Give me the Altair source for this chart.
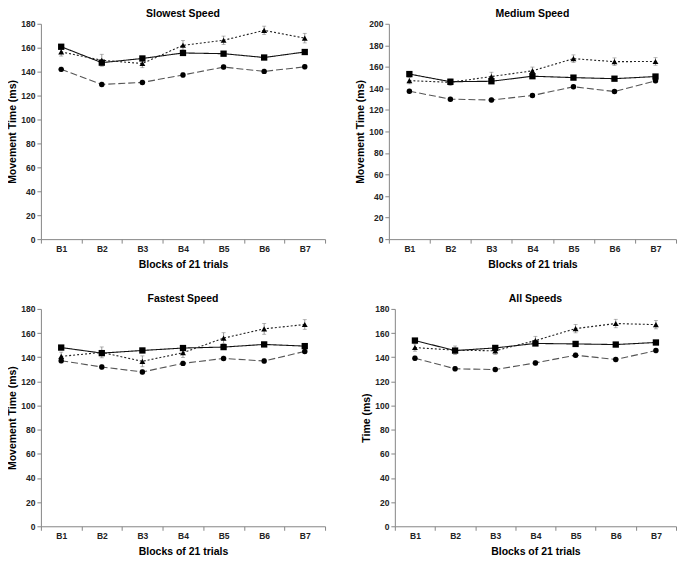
import altair as alt
import pandas as pd

blocks = ["B1", "B2", "B3", "B4", "B5", "B6", "B7"]
series_names = ["Square", "Triangle", "Circle"]

# Slowest Speed
slow_sq = [160.8, 147.5, 151.0, 155.6, 155.0, 151.8, 156.4]
slow_tri = [156.5, 149.5, 146.8, 162.0, 166.2, 174.5, 168.0]
slow_cir = [141.9, 129.3, 131.0, 137.2, 143.8, 140.2, 144.0]
slow_err_tri = [3.5, 5.0, 3.5, 4.0, 3.5, 3.5, 4.0]

# Medium Speed
med_sq = [153.3, 146.2, 146.6, 151.3, 150.0, 149.0, 151.0]
med_tri = [147.2, 145.6, 151.0, 156.3, 167.6, 164.8, 165.0]
med_cir = [137.4, 130.0, 129.2, 133.4, 141.5, 137.1, 147.0]
med_err_tri = [3.0, 3.0, 4.0, 3.5, 3.5, 3.5, 3.5]

# Fastest Speed
fast_sq = [148.0, 143.4, 145.6, 147.6, 148.4, 150.6, 149.2]
fast_tri = [140.7, 144.0, 136.6, 143.7, 155.8, 163.5, 167.1]
fast_cir = [137.1, 131.9, 127.8, 134.9, 139.0, 136.9, 144.8]
fast_err_tri = [3.5, 4.5, 4.5, 4.0, 4.5, 4.5, 4.0]

# All Speeds
all_sq = [153.8, 145.5, 147.7, 151.4, 151.0, 150.5, 152.2]
all_tri = [148.0, 145.8, 145.3, 153.8, 163.7, 167.9, 167.0]
all_cir = [139.2, 130.4, 129.8, 135.3, 141.7, 138.1, 145.5]
all_err_tri = [3.0, 3.5, 3.0, 3.5, 3.5, 3.5, 3.5]

other_err = 1.8

FONT = "Liberation Sans"


def make_panel(title, ytitle, ymax, sq, tri, cir, err_tri, width, height):
    rows = []
    for name, vals, errs in [
        ("Square", sq, [other_err] * 7),
        ("Triangle", tri, err_tri),
        ("Circle", cir, [other_err] * 7),
    ]:
        for b, v, e in zip(blocks, vals, errs):
            rows.append({"block": b, "series": name, "value": v, "lo": v - e, "hi": v + e})
    df = pd.DataFrame(rows)

    x = alt.X(
        "block:N",
        sort=blocks,
        scale=alt.Scale(type="band", domain=blocks, paddingInner=0, paddingOuter=0),
        axis=alt.Axis(
            title="Blocks of 21 trials",
            labelAngle=0,
            tickBand="extent",
            tickSize=4,
            labelPadding=1,
            titlePadding=7,
        ),
    )
    yscale = alt.Scale(domain=[0, ymax], nice=False, zero=True)
    yaxis = alt.Axis(
        title=ytitle,
        values=list(range(0, ymax + 1, 20)),
        tickSize=4,
        grid=False,
        labelOverlap=False,
        minExtent=20,
        maxExtent=20,
        titlePadding=3,
    )
    y = alt.Y("value:Q", scale=yscale, axis=yaxis)
    base = alt.Chart(df)

    err = base.mark_rule(color="#808080", strokeWidth=0.8).encode(
        x=x, y=alt.Y("lo:Q", scale=yscale, axis=yaxis), y2="hi:Q"
    )
    caps_lo = base.mark_tick(color="#808080", size=4, thickness=0.8).encode(
        x=x, y=alt.Y("lo:Q", scale=yscale, axis=yaxis)
    )
    caps_hi = base.mark_tick(color="#808080", size=4, thickness=0.8).encode(
        x=x, y=alt.Y("hi:Q", scale=yscale, axis=yaxis)
    )
    lines = base.mark_line(strokeWidth=1.1).encode(
        x=x,
        y=y,
        detail="series:N",
        color=alt.Color(
            "series:N",
            scale=alt.Scale(domain=series_names, range=["#111111", "#222222", "#555555"]),
            legend=None,
        ),
        strokeDash=alt.StrokeDash(
            "series:N",
            scale=alt.Scale(domain=series_names, range=[[1, 0], [2, 2], [7, 3]]),
            legend=None,
        ),
    )
    points = base.mark_point(filled=True, opacity=1, color="#000000").encode(
        x=x,
        y=y,
        shape=alt.Shape(
            "series:N",
            scale=alt.Scale(domain=series_names, range=["square", "triangle-up", "circle"]),
            legend=None,
        ),
        size=alt.Size(
            "series:N",
            scale=alt.Scale(domain=series_names, range=[40, 30, 32]),
            legend=None,
        ),
    )
    return alt.layer(lines, err, caps_lo, caps_hi, points).properties(
        width=width,
        height=height,
        title=alt.TitleParams(
            title, fontSize=10.5, fontWeight="bold", font=FONT, offset=0, frame="group", color="#000000"
        ),
    )


p1 = make_panel("Slowest Speed", "Movement Time (ms)", 180, slow_sq, slow_tri, slow_cir, slow_err_tri, 285, 216)
p2 = make_panel("Medium Speed", "Movement Time (ms)", 200, med_sq, med_tri, med_cir, med_err_tri, 288, 216)
p3 = make_panel("Fastest Speed", "Movement Time (ms)", 180, fast_sq, fast_tri, fast_cir, fast_err_tri, 285, 218)
p4 = make_panel("All Speeds", "Time (ms)", 180, all_sq, all_tri, all_cir, all_err_tri, 282, 218)

row1 = alt.hconcat(p1, p2, spacing=30)
row2 = alt.hconcat(p3, p4, spacing=36)

chart = alt.vconcat(row1, row2, spacing=24).properties(
    padding={"left": 0, "top": 0, "right": 0, "bottom": 0}
).configure_view(stroke=None).configure_axis(
    domainColor="#868686",
    tickColor="#868686",
    labelFont=FONT,
    labelFontSize=8.5,
    labelFontWeight="bold",
    labelColor="#222222",
    titleFont=FONT,
    titleFontSize=10.5,
    titleFontWeight="bold",
    titleColor="#000000",
)

chart.save("out.html", embed_options={"renderer": "svg", "actions": False})
